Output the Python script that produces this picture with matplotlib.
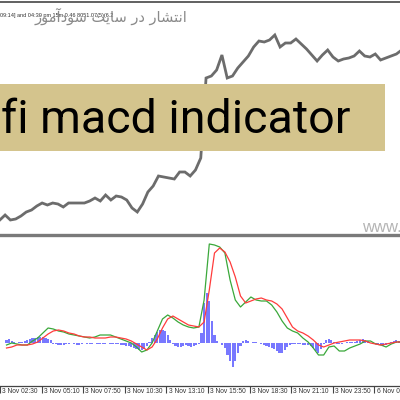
import numpy as np
import matplotlib
matplotlib.use("Agg")
import matplotlib.pyplot as plt
from matplotlib.patches import Rectangle
from matplotlib.lines import Line2D

# ---------------- data ----------------
# price (close, arbitrary units), one value every 4 bars (M5 chart)
price = [20, 25, 20, 21, 24, 28, 30, 34, 37, 35, 37, 36, 33, 37, 37, 37, 37, 39, 42, 39,
         45, 40, 44, 43, 40, 32, 28, 36, 48, 54, 64, 63, 62, 61, 68, 68, 64, 70, 82, 162,
         164, 170, 185, 162, 164, 172, 178, 184, 193, 199, 198, 200, 205, 193, 197, 197, 201, 196, 191, 185,
         179, 185, 190, 183, 179, 181, 182, 184, 189, 184, 183, 186, 180, 182, 184, 186, 190]

# MACD main line (green) and signal line (red), every 4 bars
macd_main = [-2, 0, -1, -2, -2, 2, 5, 10, 15, 14, 12, 11, 9, 8, 7, 6, 5, 6, 8, 8,
             8, 6, 4, 2, 0, -4, -9, -7, 0, 12, 24, 28, 25, 21, 18, 16, 15, 16, 43, 99,
             98, 96, 90, 63, 43, 36, 41, 46, 43, 42, 42, 38, 31, 22, 15, 12, 10, 5, 1, -5,
             -12, -12, -4, -3, -8, -8, -5, -3, -1, 2, 2, -1, -2, -4, -1, 1, 1]
macd_signal = [-5, -4, -2, -2, -2, -1, 1, 5, 9, 12, 13, 12, 10, 9, 7, 6, 6, 5, 5, 5,
               6, 6, 5, 4, 2, -1, -4, -7, -4, 4, 15, 24, 27, 24, 21, 18, 17, 16, 21, 53,
               90, 95, 91, 81, 66, 47, 40, 42, 44, 45, 43, 42, 39, 34, 25, 16, 12, 10, 7, 3,
               -2, -4, -2, 0, 1, 2, 3, 3, 3, 2, 0, -1, -2, -1, 0, 1, 1]

# histogram (OsMA), one value every 2 bars
macd_hist = [3, 4, 2, 1, 0, 1, 1, 2, 3, 4, 5, 5, 6, 6, 6, 5, 4, 3,
             -1, -1, -2, -2, -2, -1, -1, 0, -1, -2, -2, -1, 0, -1, -1, -1, 0, -1, -1, -1, -1, 0, -1, -1,
             -1, -1, -2, -2, -3, -3, -4, -5, -6, -7, -7, -6, -3,
             1, 5, 8, 11, 13, 13, 12, 8, 3,
             -1, -3, -4, -4, -3, -2, -3, -4, -3, -2, -1,
             10, 40, 50, 42, 22, 8, 2, 0, -2,
             -5, -12, -18, -24, -18, -10, -3,
             2, 3, 2, 0, 1, 1, 0, -1,
             -2, -3, -4, -5, -6, -8, -10, -10, -7, -4, -2,
             -1, -1, -1, -1, -2, -2, -2, -3, -5, -8, -10, -6, -1,
             3, 4, 3, 1, -1, -1, -1, 0, 1, 1, 1, 1, 2, 3, 4, 3, 2, 0,
             -1, -1, -2, -2, -3, -2, -1, 1, 2, 3, 2]

tick_labels = ["3 Nov 02:30", "3 Nov 05:10", "3 Nov 07:50", "3 Nov 10:30", "3 Nov 13:10",
               "3 Nov 15:50", "3 Nov 18:30", "3 Nov 21:10", "3 Nov 23:50", "6 Nov 02:30"]

banner_text = "fi macd indicator"
header_text = "09:14] and 04:30 pm 15m 0.46 8051.07(5)(6.2"
# "انتشار در سایت سودآموز" written in visual order with Arabic presentation forms
persian_text = ("\ufeaf\ufeee\ufee3\ufe81\ufea9\ufeee\ufeb3 "
                "\ufe96\ufef3\ufe8e\ufeb3 "
                "\ufead\ufea9 "
                "\ufead\ufe8e\ufeb8\ufe98\ufee7\ufe8d")
watermark = "www.sodaamooz.com"

# ---------------- layout ----------------
W = H = 400
fig = plt.figure(figsize=(4, 4), dpi=100)
fig.patch.set_facecolor("white")

bars_per_step = 4
x_price = 5 + bars_per_step * np.arange(len(price))
x_hist = 5 + 2 * np.arange(len(macd_hist))
ticks = 32 * np.arange(len(tick_labels))
xlim = (5.14, 307.7)

def fy(px):
    return 1 - px / H

# price window
ax1 = fig.add_axes([0, fy(234), 1, (234 - 3) / H])
ax1.plot(x_price, price, color="#6c6c6c", lw=2.0, solid_joinstyle="miter")
ax1.set_xlim(*xlim)
ax1.set_ylim(6, 237)
ax1.axis("off")

# MACD window
ax2 = fig.add_axes([0, fy(386), 1, (386 - 237) / H])
ax2.bar(x_hist, macd_hist, width=1.55, color="#7878ff", linewidth=0)
ax2.plot(x_price, macd_main, color="#3aa83a", lw=0.9)
ax2.plot(x_price, macd_signal, color="#ff3c3c", lw=0.9)
ax2.set_xlim(*xlim)
ax2.set_ylim(-43, 106)
for s in ["top", "left", "right"]:
    ax2.spines[s].set_visible(False)
ax2.spines["bottom"].set_color("#444444")
ax2.spines["bottom"].set_linewidth(0.9)
ax2.set_yticks([])
ax2.set_xticks(ticks)
ax2.tick_params(axis="x", direction="out", length=5, width=0.8, color="#444444",
                labelbottom=False)
for t, lab in zip(ticks, tick_labels):
    ax2.annotate(lab, xy=(t, 0), xycoords=("data", "axes fraction"),
                 xytext=(1.6, -1.3), textcoords="offset points",
                 ha="left", va="top", fontsize=4.8, color="#333333",
                 family="Liberation Sans", annotation_clip=False)

# frame lines
fig.add_artist(Line2D([0, 1], [fy(1.5), fy(1.5)], color="#606060", lw=1.4))
fig.add_artist(Line2D([0, 1], [fy(235), fy(235)], color="#7a7a7a", lw=2.4))

# header texts
fig.text(0, fy(17.5), header_text, fontsize=4.0, color="#333333", ha="left",
         va="baseline", family="Liberation Sans")
fig.text(35 / W, fy(22), persian_text, fontsize=10.5, color="#8a8a8a", ha="left",
         va="baseline", family="DejaVu Sans")

# watermark
fig.text(362 / W, fy(232), watermark, fontsize=12, color="#b4b4b4", ha="left",
         va="baseline", family="Liberation Sans")

# banner
fig.add_artist(Rectangle((0, fy(151)), 385 / W, (151 - 84) / H, transform=fig.transFigure,
                         facecolor="#d4c48d", edgecolor="none", zorder=5))
fig.text(1 / W, fy(133), banner_text, fontsize=33.5, color="black", ha="left",
         va="baseline", family="Roboto", zorder=6)

fig.savefig("out.png", dpi=100, facecolor="white")
